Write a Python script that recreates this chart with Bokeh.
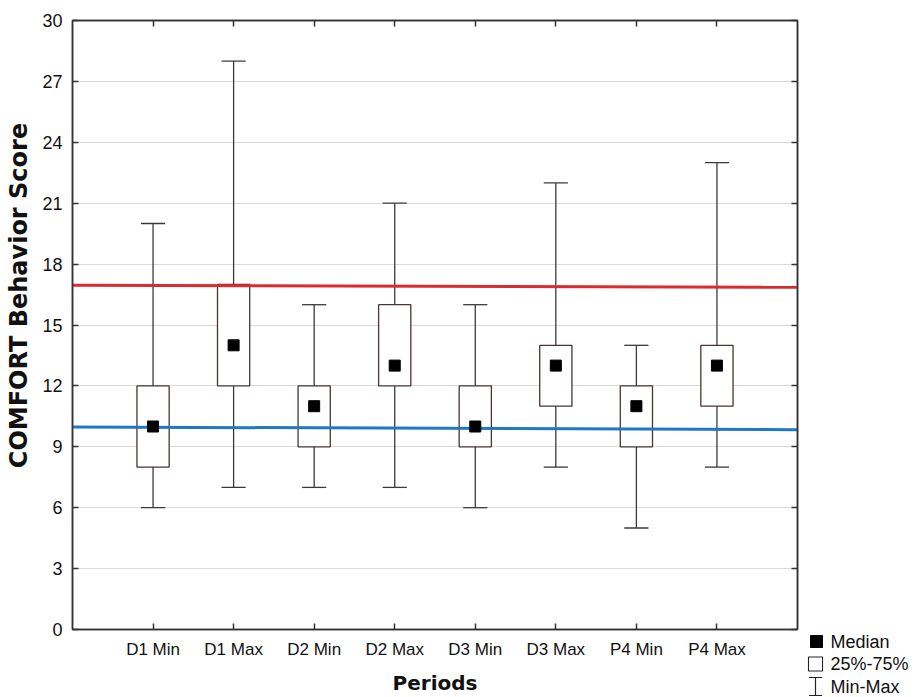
import math
from bokeh.plotting import figure
from bokeh.layouts import row, column
from bokeh.models import (ColumnDataSource, FixedTicker, LinearAxis, Label, Range1d)
from bokeh.embed import file_html
from bokeh.resources import INLINE

# ---- data ----
periods = ["D1 Min", "D1 Max", "D2 Min", "D2 Max", "D3 Min", "D3 Max", "P4 Min", "P4 Max"]
mins    = [6, 7, 7, 7, 6, 8, 5, 8]
q1      = [8, 12, 9, 12, 9, 11, 9, 11]
medians = [10, 14, 11, 13, 10, 13, 11, 13]
q3      = [12, 17, 12, 16, 12, 14, 12, 14]
maxs    = [20, 28, 16, 21, 16, 22, 14, 23]
y_ticks = [0, 3, 6, 9, 12, 15, 18, 21, 24, 27, 30]
red_ref_x = [0, 9]
red_ref_y = [16.96, 16.86]
blue_ref_x = [0, 9]
blue_ref_y = [9.98, 9.84]
legend_labels = ["Median", "25%-75%", "Min-Max"]

FONT = "Liberation Sans"
TITLE_FONT = "DejaVu Sans"
H = 697
LEFT_W = 36          # strip holding the y-axis title
MAIN_W = 806 - LEFT_W
LEG_W = 916 - 806    # strip holding the legend
pos = list(range(1, len(periods) + 1))
box_w = 0.4
cap_w = 0.3

src = ColumnDataSource(dict(
    x=pos, lo=mins, q1=q1, med=medians, q3=q3, hi=maxs,
    left=[p_ - box_w / 2 for p_ in pos], right=[p_ + box_w / 2 for p_ in pos],
    cl=[p_ - cap_w / 2 for p_ in pos], cr=[p_ + cap_w / 2 for p_ in pos],
))

# ---------------- main chart ----------------
p = figure(width=MAIN_W, height=H, output_backend="svg", toolbar_location=None,
           x_range=Range1d(0, 9), y_range=Range1d(0, 30),
           min_border_left=72 - LEFT_W, min_border_right=9, min_border_top=20,
           min_border_bottom=H - 629)

p.outline_line_color = "#333333"
p.outline_line_width = 1.5
p.background_fill_color = "white"
p.border_fill_color = "white"

p.xgrid.visible = False
p.ygrid.ticker = FixedTicker(ticks=y_ticks)
p.ygrid.grid_line_color = "#dadada"
p.ygrid.grid_line_width = 1.2

xa = p.xaxis[0]
xa.ticker = FixedTicker(ticks=pos)
xa.major_label_overrides = {i: s for i, s in zip(pos, periods)}
ya = p.yaxis[0]
ya.ticker = FixedTicker(ticks=y_ticks)
for ax in (xa, ya):
    ax.axis_line_color = "#333333"
    ax.axis_line_width = 1.5
    ax.major_tick_line_color = "#333333"
    ax.major_tick_line_width = 1.5
    ax.major_tick_in = 6
    ax.major_tick_out = 0
    ax.minor_tick_line_color = None
    ax.major_label_text_font = FONT
    ax.major_label_text_color = "#111111"
xa.major_label_text_font_size = "17px"
ya.major_label_text_font_size = "18px"
xa.major_label_standoff = 10
ya.major_label_standoff = 10
xa.axis_label = "Periods"
xa.axis_label_text_font = TITLE_FONT
xa.axis_label_text_font_style = "bold"
xa.axis_label_text_font_size = "20px"
xa.axis_label_text_color = "#111111"
xa.axis_label_standoff = 9

ra = LinearAxis(ticker=FixedTicker(ticks=y_ticks),
                major_label_overrides={t: "" for t in y_ticks},
                axis_line_color="#333333", axis_line_width=1.5,
                major_tick_line_color="#333333", major_tick_line_width=1.5,
                major_tick_in=6, major_tick_out=0, minor_tick_line_color=None,
                major_label_standoff=0)
p.add_layout(ra, "right")
ta = LinearAxis(ticker=FixedTicker(ticks=pos),
                major_label_overrides={t: "" for t in pos},
                axis_line_color="#333333", axis_line_width=1.5,
                major_tick_line_color="#333333", major_tick_line_width=1.5,
                major_tick_in=6, major_tick_out=0, minor_tick_line_color=None,
                major_label_standoff=0)
p.add_layout(ta, "above")

p.segment(x0="x", y0="lo", x1="x", y1="hi", source=src, line_color="#3a3a3a", line_width=1.3)
p.segment(x0="cl", y0="lo", x1="cr", y1="lo", source=src, line_color="#3a3a3a", line_width=1.3)
p.segment(x0="cl", y0="hi", x1="cr", y1="hi", source=src, line_color="#3a3a3a", line_width=1.3)
p.quad(left="left", right="right", bottom="q1", top="q3", source=src,
       fill_color="white", line_color="#4a3434", line_width=1.3)

p.line(red_ref_x, red_ref_y, line_color="#dc2a2e", line_width=3)
p.line(blue_ref_x, blue_ref_y, line_color="#1f78c6", line_width=3)

p.scatter(x="x", y="med", source=src, marker="square", size=11,
          fill_color="black", line_color="black")

# ---------------- side strips ----------------
def strip(width):
    f = figure(width=width, height=H, output_backend="svg", toolbar_location=None,
               x_range=Range1d(0, width), y_range=Range1d(H, 0),
               min_border=0, min_border_left=0, min_border_right=0,
               min_border_top=0, min_border_bottom=0)
    f.axis.visible = False
    f.grid.visible = False
    f.outline_line_color = None
    f.border_fill_color = "white"
    f.background_fill_color = "white"
    return f

lt = strip(LEFT_W)
lt.add_layout(Label(x=18, y=295, text="COMFORT Behavior Score", angle=math.pi / 2,
                    text_font=TITLE_FONT, text_font_style="bold", text_font_size="24px",
                    text_color="#111111", text_align="center", text_baseline="middle"))

lg = strip(LEG_W)
lg.scatter(x=[10], y=[641], marker="square", size=12, fill_color="black", line_color="black")
lg.scatter(x=[9], y=[663.5], marker="square", size=14, fill_color="white",
           line_color="#222222", line_width=1.1)
lg.segment(x0=[9, 2.5, 2.5], y0=[677, 677, 695], x1=[9, 15.5, 15.5], y1=[695, 677, 695],
           line_color="#222222", line_width=1.2)
lg.text(x=[24, 24, 24], y=[641, 663, 686], text=legend_labels,
        text_font={"value": FONT}, text_font_size="18px", text_color="#111111",
        text_baseline="middle", text_align="left")

layout = row(column(lt), p, column(lg), spacing=0)
open("out.html", "w").write(file_html(layout, INLINE))
